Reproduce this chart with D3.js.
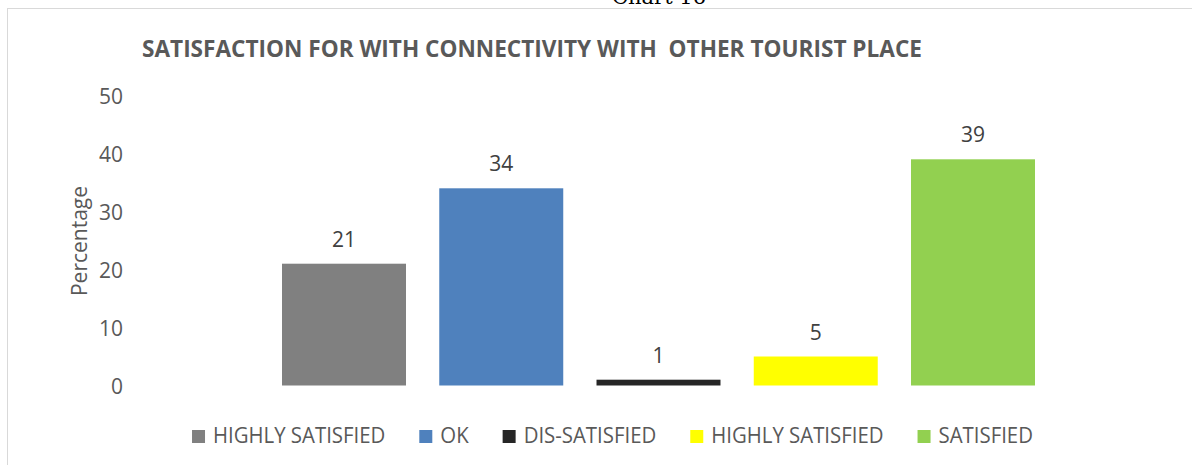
<!DOCTYPE html>
<html>
<head>
<meta charset="utf-8">
<script src="https://cdn.jsdelivr.net/npm/d3@7"></script>
<style>
  html, body { margin: 0; padding: 0; background: #fff; }
  svg { display: block; }
  text { font-family: "Open Sans", "Noto Sans", sans-serif; }
  text.caption { font-family: "DejaVu Serif", "Liberation Serif", serif; }
</style>
</head>
<body>
<svg id="chart" width="1192" height="465"></svg>
<script>
// Survey result: satisfaction with connectivity to other tourist places (%)
const categories = ["HIGHLY SATISFIED", "OK", "DIS-SATISFIED", "HIGHLY SATISFIED", "SATISFIED"];
const values = [21, 34, 1, 5, 39];
const colors = ["#808080", "#4f81bd", "#262626", "#ffff00", "#92d050"];
const yTicks = [0, 10, 20, 30, 40, 50];
const titleText = "SATISFACTION FOR WITH CONNECTIVITY WITH  OTHER TOURIST PLACE";
const yLabel = "Percentage";
const captionText = "Chart 16";

const svg = d3.select("#chart");

// chart frame (right and bottom edges run past the page)
svg.append("rect")
  .attr("x", 7.5).attr("y", 8.5)
  .attr("width", 1230).attr("height", 480)
  .attr("fill", "#fff")
  .attr("stroke", "#d9d9d9").attr("stroke-width", 1);

// caption sitting above the frame
svg.append("text")
  .attr("class", "caption")
  .attr("x", 612).attr("y", 4)
  .attr("font-size", 21)
  .attr("fill", "#000")
  .text(captionText);

// title
svg.append("text")
  .attr("x", 142).attr("y", 57)
  .attr("font-size", 23).attr("font-weight", "bold")
  .attr("fill", "#595959")
  .style("white-space", "pre")
  .attr("textLength", 780).attr("lengthAdjust", "spacingAndGlyphs")
  .text(titleText);

const idx = d3.range(categories.length);

const x = d3.scaleBand()
  .domain(idx)
  .range([248.75, 1068.25])
  .paddingInner(0.2115)
  .paddingOuter(0.2115);

const y = d3.scaleLinear()
  .domain([0, 50])
  .range([385.5, 95.5]);

// y axis: labels only, no line or ticks
const yAxis = d3.axisLeft(y)
  .tickValues(yTicks)
  .tickSize(0)
  .tickPadding(0);

const gy = svg.append("g")
  .attr("transform", "translate(123,0)")
  .call(yAxis);
gy.select(".domain").remove();
gy.selectAll("text")
  .style("font-family", "'Open Sans', sans-serif")
  .attr("font-size", 21)
  .attr("fill", "#595959")
  .attr("dy", "0.36em");

// axis title
svg.append("text")
  .attr("transform", "translate(87,241) rotate(-90)")
  .attr("text-anchor", "middle")
  .attr("font-size", 21)
  .attr("fill", "#595959")
  .text(yLabel);

// bars
svg.append("g")
  .selectAll("rect")
  .data(idx)
  .join("rect")
  .attr("x", i => x(i))
  .attr("y", i => y(values[i]))
  .attr("width", x.bandwidth())
  .attr("height", i => y(0) - y(values[i]))
  .attr("fill", i => colors[i]);

// value labels
svg.append("g")
  .selectAll("text")
  .data(idx)
  .join("text")
  .attr("x", i => x(i) + x.bandwidth() / 2)
  .attr("y", i => y(values[i]) - 17)
  .attr("text-anchor", "middle")
  .attr("font-size", 21)
  .attr("fill", "#404040")
  .text(i => values[i]);

// legend, laid out left to right and centred on the frame
const legend = svg.append("g");
const sw = 13, gapIn = 8, gapOut = 34, condense = 0.97;
let cursor = 0;
const items = idx.map(i => {
  const g = legend.append("g");
  g.append("rect")
    .attr("y", 430).attr("width", sw).attr("height", sw)
    .attr("fill", colors[i]);
  const t = g.append("text")
    .attr("y", 443)
    .attr("font-size", 21)
    .attr("fill", "#595959")
    .text(categories[i]);
  const w = t.node().getComputedTextLength() * condense;
  t.attr("textLength", w).attr("lengthAdjust", "spacingAndGlyphs");
  const item = { g, t, start: cursor, w };
  cursor += sw + gapIn + w + gapOut;
  return item;
});
const total = cursor - gapOut;
const left = 612.5 - total / 2;
items.forEach(it => {
  it.g.select("rect").attr("x", left + it.start);
  it.t.attr("x", left + it.start + sw + gapIn);
});
</script>
</body>
</html>
